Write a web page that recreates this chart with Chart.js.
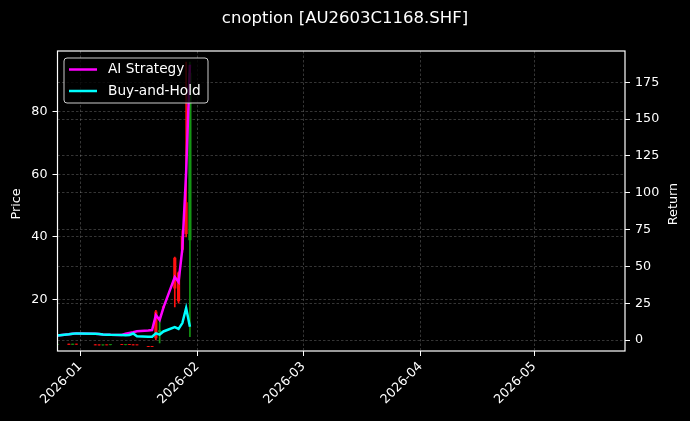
<!DOCTYPE html>
<html>
<head>
<meta charset="utf-8">
<script src="https://cdn.jsdelivr.net/npm/chart.js@4/dist/chart.umd.min.js"></script>
<style>
  html, body { margin: 0; padding: 0; background: #000; }
  #wrap { width: 690px; height: 421px; }
</style>
</head>
<body>
<div id="wrap"><canvas id="c"></canvas></div>
<script>
// trading days
const dates = ['2025-12-26', '2025-12-29', '2025-12-30', '2025-12-31',
  '2026-01-05', '2026-01-06', '2026-01-07', '2026-01-08', '2026-01-09',
  '2026-01-12', '2026-01-13', '2026-01-14', '2026-01-15', '2026-01-16',
  '2026-01-19', '2026-01-20', '2026-01-21', '2026-01-22', '2026-01-23',
  '2026-01-26', '2026-01-27', '2026-01-28', '2026-01-29', '2026-01-30'];

// OHLC of the option (left axis)
const opens  = [5.60, 5.62, 5.58, 5.62, 5.45, 5.40, 5.36, 5.40, 5.45, 5.50, 5.46, 5.50, 5.45, 5.40, 4.92, 4.86, 16.0, 9.6, 17.6, 33.2, 28.5, 40.0, 51.0, 39.0];
const highs  = [5.64, 5.66, 5.64, 5.66, 5.50, 5.44, 5.42, 5.44, 5.50, 5.54, 5.50, 5.54, 5.50, 5.44, 4.96, 4.90, 16.5, 13.4, 17.8, 33.5, 28.8, 42.0, 96.0, 96.0];
const lows   = [5.56, 5.56, 5.56, 5.58, 5.40, 5.34, 5.34, 5.36, 5.42, 5.46, 5.42, 5.46, 5.40, 5.36, 4.84, 4.80, 7.0, 6.0, 17.2, 17.6, 18.8, 35.0, 40.0, 8.0];
const closes = [5.60, 5.58, 5.62, 5.60, 5.42, 5.37, 5.40, 5.38, 5.47, 5.48, 5.48, 5.47, 5.42, 5.38, 4.88, 4.83, 7.6, 10.0, 17.4, 23.6, 19.5, 36.0, 41.0, 92.5];

// returns (right axis)
const aiStrategy = [3.0, 3.9, 4.3, 4.5, 4.3, 4.1, 3.7, 3.6, 3.5, 3.4, 4.2, 4.8, 5.3, 5.9, 6.5, 6.8, 17.0, 13.6, 22.0, 42.8, 39.4, 62.0, 114.0, 187.0];
const buyHold    = [3.0, 3.9, 4.3, 4.5, 4.3, 4.1, 3.7, 3.6, 3.5, 3.4, 3.3, 3.4, 4.4, 2.6, 2.2, 2.2, 4.5, 3.7, 5.8, 8.8, 7.6, 11.5, 21.7, 9.0];

const priceTicks = [20, 40, 60, 80];
const returnTicks = [0, 25, 50, 75, 100, 125, 150, 175];
const monthTicks = ['2026-01-01', '2026-02-01', '2026-03-01', '2026-04-01', '2026-05-01'];
const monthLabels = ['2026-01', '2026-02', '2026-03', '2026-04', '2026-05'];
const xRange = ['2025-12-26', '2026-05-25'];
const priceRange = [3.44, 99.54];
const returnRange = [-7.47, 196.3];

function dayNum(s) {
  const [y, m, d] = s.split('-').map(Number);
  return Date.UTC(y, m - 1, d) / 864e5;
}

const UP = 'rgb(20,150,20)';
const DOWN = '#ff1010';
const candleColors = dates.map((d, i) => closes[i] >= opens[i] ? UP : DOWN);
const gridColor = 'rgba(170,170,170,0.45)';

Chart.defaults.font.family = '"DejaVu Sans", sans-serif';
Chart.defaults.color = '#fff';

const decor = {
  id: 'decor',
  afterDraw(chart) {
    const ctx = chart.ctx;
    const a = chart.chartArea;
    ctx.save();
    // frame
    ctx.strokeStyle = '#fff';
    ctx.lineWidth = 1.2;
    ctx.strokeRect(a.left, a.top, a.right - a.left, a.bottom - a.top);

    // axis titles
    ctx.fillStyle = '#fff';
    ctx.font = '12.8px "DejaVu Sans"';
    ctx.textAlign = 'center';
    ctx.textBaseline = 'middle';
    const midY = (a.top + a.bottom) / 2 + 3;
    ctx.save();
    ctx.translate(16.7, midY);
    ctx.rotate(-Math.PI / 2);
    ctx.fillText('Price', 0, 0);
    ctx.restore();
    ctx.save();
    ctx.translate(673.3, midY);
    ctx.rotate(-Math.PI / 2);
    ctx.fillText('Return', 0, 0);
    ctx.restore();

    // legend
    const items = chart.data.datasets.filter(d => d.type === 'line');
    const bx = a.left + 6.5, by = a.top + 7, bw = 144, bh = 45;
    ctx.beginPath();
    ctx.roundRect(bx, by, bw, bh, 3);
    ctx.fillStyle = 'rgba(0,0,0,0.8)';
    ctx.fill();
    ctx.strokeStyle = '#cccccc';
    ctx.lineWidth = 1;
    ctx.stroke();
    ctx.font = '13.7px "DejaVu Sans"';
    ctx.textAlign = 'left';
    items.forEach((d, i) => {
      const y = by + 11.5 + i * 21.5;
      ctx.strokeStyle = d.borderColor;
      ctx.lineWidth = 2.5;
      ctx.beginPath();
      ctx.moveTo(bx + 5, y);
      ctx.lineTo(bx + 33, y);
      ctx.stroke();
      ctx.fillStyle = '#fff';
      ctx.fillText(d.label, bx + 44, y);
    });
    ctx.restore();
  }
};

new Chart(document.getElementById('c'), {
  data: {
    datasets: [
      {
        type: 'line', label: 'AI Strategy',
        data: dates.map((d, i) => ({ x: dayNum(d), y: aiStrategy[i] })),
        borderColor: '#ff00ff', borderWidth: 2.5, pointRadius: 0,
        yAxisID: 'yRet', order: 1
      },
      {
        type: 'line', label: 'Buy-and-Hold',
        data: dates.map((d, i) => ({ x: dayNum(d), y: buyHold[i] })),
        borderColor: '#00ffff', borderWidth: 2.5, pointRadius: 0,
        yAxisID: 'yRet', order: 0
      },
      {
        type: 'bar', label: 'body',
        data: dates.map((d, i) => ({ x: dayNum(d), y: [opens[i], closes[i]] })),
        backgroundColor: candleColors, barThickness: 2.5, grouped: false,
        yAxisID: 'yPrice', order: 2
      },
      {
        type: 'bar', label: 'wick',
        data: dates.map((d, i) => ({ x: dayNum(d), y: [lows[i], highs[i]] })),
        backgroundColor: candleColors, barThickness: 1, grouped: false,
        yAxisID: 'yPrice', order: 3
      }
    ]
  },
  options: {
    responsive: true,
    maintainAspectRatio: false,
    animation: false,
    layout: { padding: 0 },
    plugins: {
      legend: { display: false },
      tooltip: { enabled: false },
      title: {
        display: true,
        text: 'cnoption [AU2603C1168.SHF]',
        color: '#fff',
        font: { size: 16.5, weight: 'normal' },
        padding: { top: 9, bottom: 22.2 }
      }
    },
    scales: {
      x: {
        type: 'linear',
        offset: false,
        min: dayNum(xRange[0]),
        max: dayNum(xRange[1]),
        afterBuildTicks: s => { s.ticks = monthTicks.map(d => ({ value: dayNum(d) })); },
        afterFit: s => { s.height = 70; },
        ticks: {
          autoSkip: false,
          minRotation: 45, maxRotation: 45,
          color: '#fff', font: { size: 12.7 }, padding: 3,
          callback: v => monthLabels[monthTicks.findIndex(d => dayNum(d) === v)]
        },
        grid: { offset: false, color: gridColor, lineWidth: 0.7, tickColor: '#fff', tickLength: 5, tickWidth: 1 },
        border: { display: false, dash: [2.5, 2] }
      },
      yPrice: {
        type: 'linear', position: 'left',
        min: priceRange[0], max: priceRange[1],
        afterBuildTicks: s => { s.ticks = priceTicks.map(v => ({ value: v })); },
        afterFit: s => { s.width = 57.5; },
        ticks: { color: '#fff', font: { size: 12.7 }, padding: 5 },
        grid: { color: gridColor, lineWidth: 0.7, tickColor: '#fff', tickLength: 5, tickWidth: 1 },
        border: { display: false, dash: [2.5, 2] }
      },
      yRet: {
        type: 'linear', position: 'right',
        min: returnRange[0], max: returnRange[1],
        afterBuildTicks: s => { s.ticks = returnTicks.map(v => ({ value: v })); },
        afterFit: s => { s.width = 65; },
        ticks: { color: '#fff', font: { size: 12.7 }, padding: 5 },
        grid: { color: gridColor, lineWidth: 0.7, tickColor: '#fff', tickLength: 5, tickWidth: 1 },
        border: { display: false, dash: [2.5, 2] }
      }
    }
  },
  plugins: [decor]
});
</script>
</body>
</html>
